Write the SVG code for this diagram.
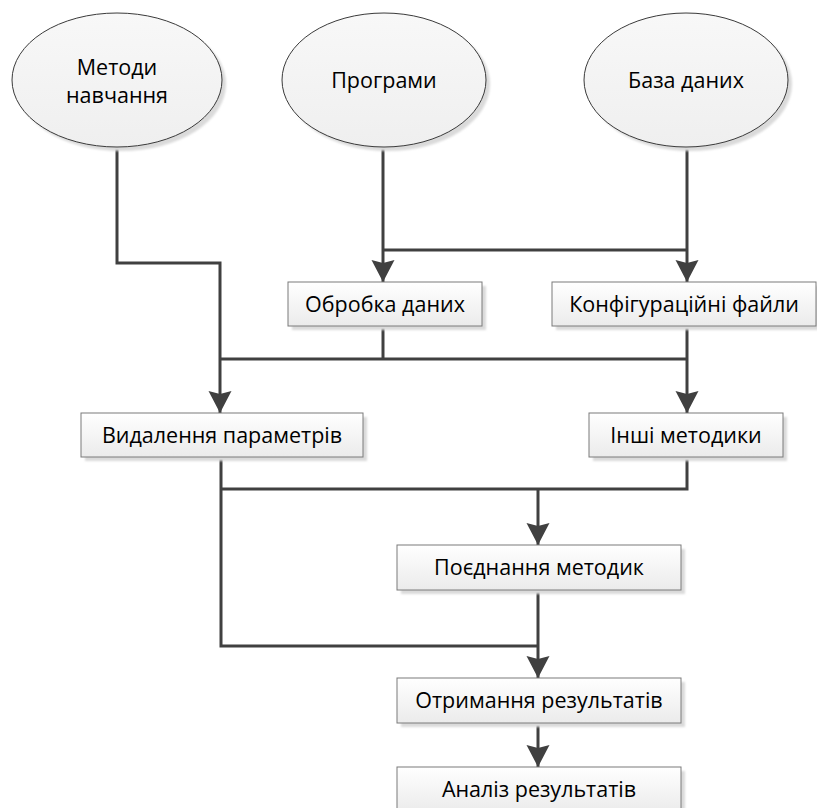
<svg xmlns="http://www.w3.org/2000/svg" width="817" height="808" viewBox="0 0 817 808">
<style>
.bx{fill:url(#gb);stroke:#7a7a7a;stroke-width:1}
.el{fill:url(#ge);stroke:#3a3a3a;stroke-width:1}
.sh{fill:#dadada}
.t{font-family:"Open Sans","Liberation Sans",sans-serif;font-size:21.5px;fill:#000;text-anchor:middle}
.c{fill:none;stroke:#404040;stroke-width:3}
</style>
<defs>
<linearGradient id="gb" x1="0" y1="0" x2="0" y2="1"><stop offset="0" stop-color="#ffffff"/><stop offset="1" stop-color="#ebebeb"/></linearGradient>
<linearGradient id="ge" x1="0" y1="0" x2="0" y2="1"><stop offset="0" stop-color="#f8f8f8"/><stop offset="1" stop-color="#efefef"/></linearGradient>
<marker id="ar" markerUnits="userSpaceOnUse" markerWidth="24" markerHeight="24" refX="22" refY="11.5" orient="auto"><path d="M0,0 L22,11.5 L0,23 L3,11.5 z" fill="#404040"/></marker>
<filter id="bl" x="-10%" y="-10%" width="120%" height="120%"><feGaussianBlur stdDeviation="1"/></filter>
</defs>
<g id="connectors">
<path class="c" d="M117,147 V263 H220 V413" marker-end="url(#ar)"/>
<path class="c" d="M383,147 V282" marker-end="url(#ar)"/>
<path class="c" d="M383,250 H687"/>
<path class="c" d="M687,147 V282" marker-end="url(#ar)"/>
<path class="c" d="M383,326 V359"/>
<path class="c" d="M220,359 H687"/>
<path class="c" d="M687,326 V413" marker-end="url(#ar)"/>
<path class="c" d="M221,457 V646 H538"/>
<path class="c" d="M221,489 H687 V457"/>
<path class="c" d="M538,489 V545" marker-end="url(#ar)"/>
<path class="c" d="M538,590 V678" marker-end="url(#ar)"/>
<path class="c" d="M538,723 V767" marker-end="url(#ar)"/>
</g>
<g id="n-metody">
<ellipse class="sh" cx="121" cy="84" rx="105" ry="67" filter="url(#bl)"/>
<ellipse class="el" cx="117" cy="80" rx="105" ry="67"/>
<text class="t" x="117" y="75">Методи</text>
<text class="t" x="117" y="103">навчання</text>
</g>
<g id="n-programy">
<ellipse class="sh" cx="388" cy="84" rx="102" ry="67" filter="url(#bl)"/>
<ellipse class="el" cx="384" cy="80" rx="102" ry="67"/>
<text class="t" x="384" y="88">Програми</text>
</g>
<g id="n-baza">
<ellipse class="sh" cx="690" cy="84" rx="102" ry="67" filter="url(#bl)"/>
<ellipse class="el" cx="686" cy="80" rx="102" ry="67"/>
<text class="t" x="686" y="88">База даних</text>
</g>
<g id="n-obrobka">
<rect class="sh" x="292" y="286" width="194" height="44" filter="url(#bl)"/>
<rect class="bx" x="288" y="282" width="194" height="44"/>
<text class="t" x="385" y="312">Обробка даних</text>
</g>
<g id="n-konfig">
<rect class="sh" x="556" y="286" width="264" height="44" filter="url(#bl)"/>
<rect class="bx" x="552" y="282" width="264" height="44"/>
<text class="t" x="684" y="312">Конфігураційні файли</text>
</g>
<g id="n-vydalennia">
<rect class="sh" x="85" y="417" width="282" height="44" filter="url(#bl)"/>
<rect class="bx" x="81" y="413" width="282" height="44"/>
<text class="t" x="222" y="443">Видалення параметрів</text>
</g>
<g id="n-inshi">
<rect class="sh" x="593" y="417" width="194" height="44" filter="url(#bl)"/>
<rect class="bx" x="589" y="413" width="194" height="44"/>
<text class="t" x="686" y="443">Інші методики</text>
</g>
<g id="n-poiednannia">
<rect class="sh" x="401" y="549" width="284" height="45" filter="url(#bl)"/>
<rect class="bx" x="397" y="545" width="284" height="45"/>
<text class="t" x="539" y="575">Поєднання методик</text>
</g>
<g id="n-otrymannia">
<rect class="sh" x="401" y="682" width="284" height="45" filter="url(#bl)"/>
<rect class="bx" x="397" y="678" width="284" height="45"/>
<text class="t" x="539" y="708">Отримання результатів</text>
</g>
<g id="n-analiz">
<rect class="sh" x="401" y="771" width="284" height="45" filter="url(#bl)"/>
<rect class="bx" x="397" y="767" width="284" height="45"/>
<text class="t" x="539" y="797">Аналіз результатів</text>
</g>
</svg>
